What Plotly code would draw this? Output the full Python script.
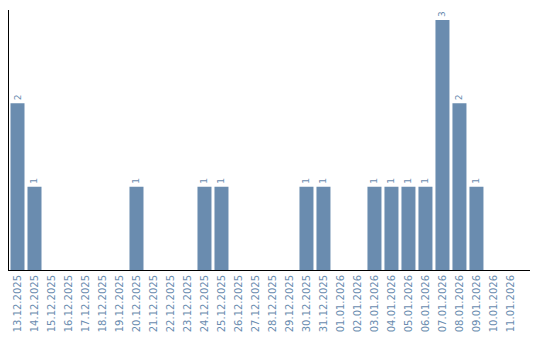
import plotly.graph_objects as go

dates = ["13.12.2025","14.12.2025","15.12.2025","16.12.2025","17.12.2025","18.12.2025",
         "19.12.2025","20.12.2025","21.12.2025","22.12.2025","23.12.2025","24.12.2025",
         "25.12.2025","26.12.2025","27.12.2025","28.12.2025","29.12.2025","30.12.2025",
         "31.12.2025","01.01.2026","02.01.2026","03.01.2026","04.01.2026","05.01.2026",
         "06.01.2026","07.01.2026","08.01.2026","09.01.2026","10.01.2026","11.01.2026"]
counts = [2,1,0,0,0,0,0,1,0,0,0,1,1,0,0,0,0,1,1,0,0,1,1,1,1,3,2,1,0,0]

labels = [str(c) if c > 0 else "" for c in counts]

color = "#6a8caf"
fig = go.Figure(go.Bar(
    x=dates, y=counts, text=labels, textposition="outside", textangle=-90,
    textfont=dict(size=9, color=color, family="DejaVu Sans"),
    marker=dict(color=color, line=dict(width=0)), cliponaxis=False,
))
fig.update_layout(
    width=540, height=340, margin=dict(l=9, r=10, t=10, b=70),
    plot_bgcolor="white", paper_bgcolor="white", bargap=0.176,
    showlegend=False,
    font=dict(family="DejaVu Sans"),
    xaxis=dict(type="category", range=[-0.5, 30.15], showline=True, linecolor="black", linewidth=1,
               tickangle=-90, tickfont=dict(size=10, color=color), showgrid=False,
               ticks="", ticklen=0),
    yaxis=dict(range=[0, 3.12], showline=True, linecolor="black", linewidth=1,
               showticklabels=False, showgrid=False, zeroline=False, ticks=""),
)
fig.write_html("out.html")
